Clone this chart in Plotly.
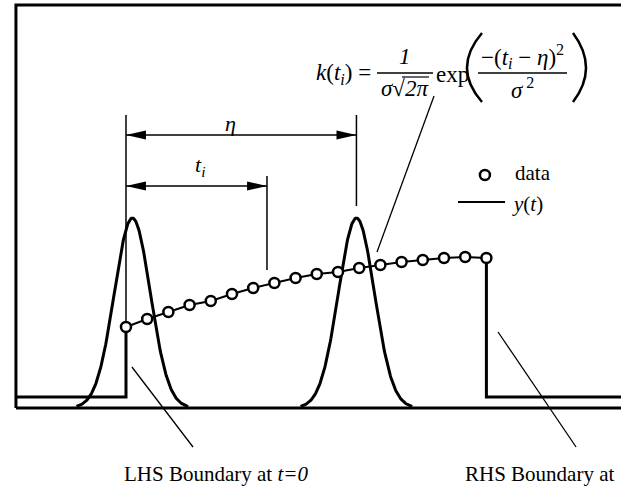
import numpy as np
import plotly.graph_objects as go

W, H = 621, 488
T_MIN, T_MAX = -5.943, 23.349
Y_MIN, Y_MAX = -0.80, 4.08

# ---- data ----
t_data = list(range(18))
y_data = [0.81, 0.89, 0.96, 1.03, 1.07, 1.14, 1.20, 1.25, 1.30, 1.34,
          1.36, 1.40, 1.43, 1.46, 1.48, 1.50, 1.51, 1.50]
y_outside = 0.11
kernel_centers = [0.30, 10.87]
kernel_sigma = 0.85
kernel_peak = 1.90
eta = 10.87
t_i = 6.65
frame_left = -5.19
frame_top = 4.03

FONT = "Liberation Serif, Times New Roman, serif"
fig = go.Figure()


def seg(x, y, w):
    fig.add_trace(go.Scatter(x=x, y=y, mode="lines",
                             line=dict(color="black", width=w),
                             hoverinfo="skip", showlegend=False))


def PXp(p):
    return p / W


def PYp(p):
    return 1 - p / H


def ann(text, px, py, size=21, xanchor="center"):
    fig.add_annotation(x=PXp(px), y=PYp(py), xref="paper", yref="paper",
                       text=text, showarrow=False, xanchor=xanchor,
                       yanchor="middle",
                       font=dict(family=FONT, size=size, color="black"))


def pline(x0, y0, x1, y1, w=1.5):
    fig.add_shape(type="line", xref="paper", yref="paper",
                  x0=PXp(x0), y0=PYp(y0), x1=PXp(x1), y1=PYp(y1),
                  line=dict(color="black", width=w))


def arrowhead(tip, y, d):
    L, h = 0.94, 0.045
    b = tip + d * L
    fig.add_shape(type="path", xref="x", yref="y",
                  path=f"M {tip},{y} L {b},{y + h} L {b},{y - h} Z",
                  fillcolor="black", line=dict(width=0))


# frame and baseline
seg([frame_left, frame_left, T_MAX + 1], [0, frame_top, frame_top], 3)
seg([frame_left, T_MAX + 1], [0, 0], 3)

# kernels
for c in kernel_centers:
    tt = np.linspace(c - 3.1 * kernel_sigma, c + 3.1 * kernel_sigma, 200)
    yy = kernel_peak * np.exp(-(tt - c) ** 2 / (2 * kernel_sigma ** 2))
    seg(tt, yy, 3)

# step parts of y(t)
seg([frame_left, t_data[0], t_data[0]], [y_outside, y_outside, y_data[0]], 3)
seg([t_data[-1], t_data[-1], T_MAX + 1], [y_data[-1], y_outside, y_outside], 3)

# dimension lines
ext_top = 2.93
seg([0, 0], [ext_top, y_data[0]], 1.5)
seg([eta, eta], [ext_top, 2.02], 1.5)
seg([t_i, t_i], [2.32, 1.38], 1.5)
seg([0, eta], [2.73, 2.73], 1.5)
arrowhead(0, 2.73, 1)
arrowhead(eta, 2.73, -1)
seg([0, t_i], [2.22, 2.22], 1.5)
arrowhead(0, 2.22, 1)
arrowhead(t_i, 2.22, -1)

# leader lines
seg([0.28, 3.16], [0.41, -0.39], 1.3)
seg([17.55, 21.23], [0.76, -0.39], 1.3)
seg([11.84, 14.53], [1.56, 3.12], 1.3)

# legend line sample
seg([15.66, 17.88], [2.06, 2.06], 2)

marker = dict(symbol="circle", size=10, color="white",
              line=dict(color="black", width=2.5))
# data
fig.add_trace(go.Scatter(x=t_data, y=y_data, mode="lines+markers",
                         line=dict(color="black", width=2), marker=marker,
                         hoverinfo="skip", showlegend=False))
# legend marker
fig.add_trace(go.Scatter(x=[16.93], y=[2.33], mode="markers", marker=marker,
                         hoverinfo="skip", showlegend=False))

# labels
ann("<i>η</i>", 230, 124, 22)
ann("<i>t<sub>i</sub></i>", 200, 166, 22)
ann("data", 513, 173, 21, "left")
ann("<i>y</i>(<i>t</i>)", 510, 204, 21, "left")
ann("LHS Boundary at <i>t=0</i>", 122, 474, 21, "left")
ann("RHS Boundary at", 463, 474, 21, "left")

# formula
ann("<i>k</i>(<i>t<sub>i</sub></i>) =", 314, 74, 23, "left")
ann("<i>1</i>", 405, 56, 23)
pline(377, 73, 433, 73, 1.5)
ann("<i>σ</i>√<i>2π</i>", 405, 89, 23)
pline(402, 77, 429, 77, 1.2)
ann("exp", 434, 75, 23, "left")
fig.add_shape(type="path", xref="paper", yref="paper",
              path=f"M {PXp(482)},{PYp(33)} Q {PXp(452)},{PYp(68)} {PXp(482)},{PYp(102)}",
              line=dict(color="black", width=2.5))
fig.add_shape(type="path", xref="paper", yref="paper",
              path=f"M {PXp(573)},{PYp(33)} Q {PXp(599)},{PYp(68)} {PXp(573)},{PYp(102)}",
              line=dict(color="black", width=2.5))
ann("−(<i>t<sub>i</sub></i> − <i>η</i>)<sup>2</sup>", 522, 56, 23)
pline(478, 73, 567, 73, 1.5)
ann("<i>σ</i><sup> 2</sup>", 522, 89, 23)

fig.update_layout(
    width=W, height=H, margin=dict(l=0, r=0, t=0, b=0),
    paper_bgcolor="white", plot_bgcolor="white",
    xaxis=dict(range=[T_MIN, T_MAX], visible=False, fixedrange=True),
    yaxis=dict(range=[Y_MIN, Y_MAX], visible=False, fixedrange=True),
    showlegend=False,
)
fig.write_html("out.html", config={"displayModeBar": False},
               post_script="document.body.style.margin='0';")
